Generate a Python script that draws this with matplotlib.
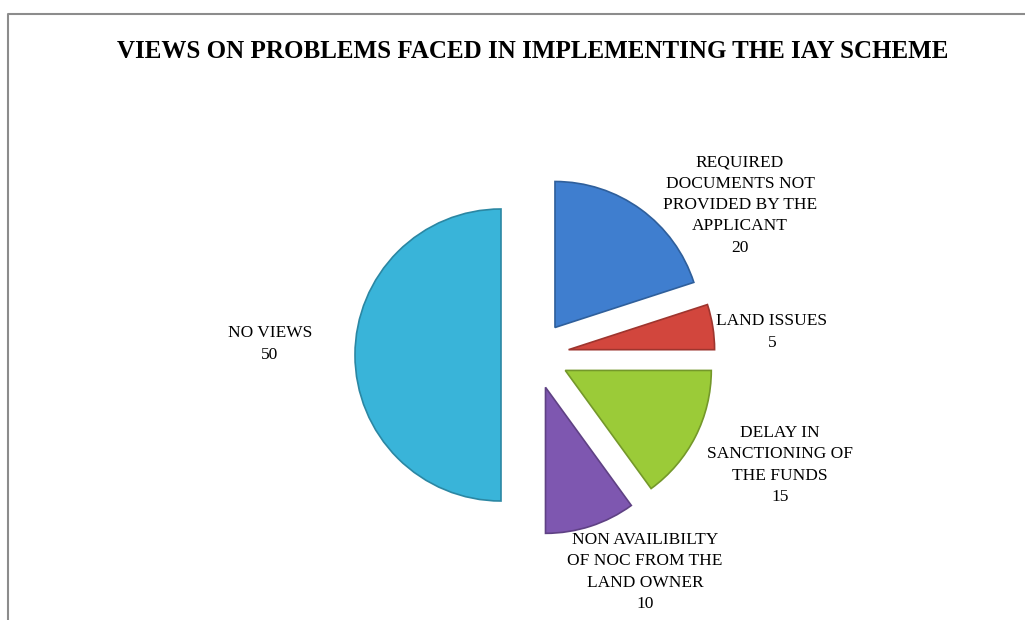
import matplotlib.pyplot as plt
import matplotlib.colors as mcolors

# 数据
categories = ['REQUIRED\nDOCUMENTS NOT\nPROVIDED BY THE\nAPPLICANT',
              'LAND ISSUES',
              'DELAY IN\nSANCTIONING OF\nTHE FUNDS',
              'NON AVAILIBILTY\nOF NOC FROM THE\nLAND OWNER',
              'NO VIEWS']
values = [20, 5, 15, 10, 50]
colors = ['#3F7ECF', '#D2463D', '#9BCB38', '#7E57B0', '#39B4D9']

# 标签位置 (像素坐标, y 向上)
label_pos = [(740, 415), (772, 288), (780, 155), (645, 48), (270, 276)]

plt.rcParams['font.family'] = ['Liberation Serif', 'DejaVu Serif']

fig = plt.figure(figsize=(10.25, 6.2), dpi=100)
ax = fig.add_axes([0, 0, 1, 1])

# 外框 (上边和左边)
ax.plot([8, 8, 1025], [0, 606, 606], color='#8c8c8c', lw=1.5, solid_capstyle='butt')

wedges, _ = ax.pie(values, colors=colors, startangle=90, counterclock=False,
                   radius=146, center=(535, 265), explode=[34] * len(values),
                   frame=True)
ax.set_xlim(0, 1025)
ax.set_ylim(0, 620)
ax.set_aspect('auto')
ax.axis('off')

# 边缘稍暗, 模拟立体效果
for w, c in zip(wedges, colors):
    rgb = mcolors.to_rgb(c)
    w.set_edgecolor(tuple(v * 0.75 for v in rgb))
    w.set_linewidth(1.2)

for cat, val, (x, y) in zip(categories, values, label_pos):
    ax.text(x, y, f'{cat}\n{val}', ha='center', va='center', fontsize=12.5,
            linespacing=1.45, color='#000000')

ax.text(533, 568, 'VIEWS ON PROBLEMS FACED IN IMPLEMENTING THE IAY SCHEME',
        ha='center', va='center', fontsize=18, fontweight='bold')

fig.savefig('out.png', dpi=100)
